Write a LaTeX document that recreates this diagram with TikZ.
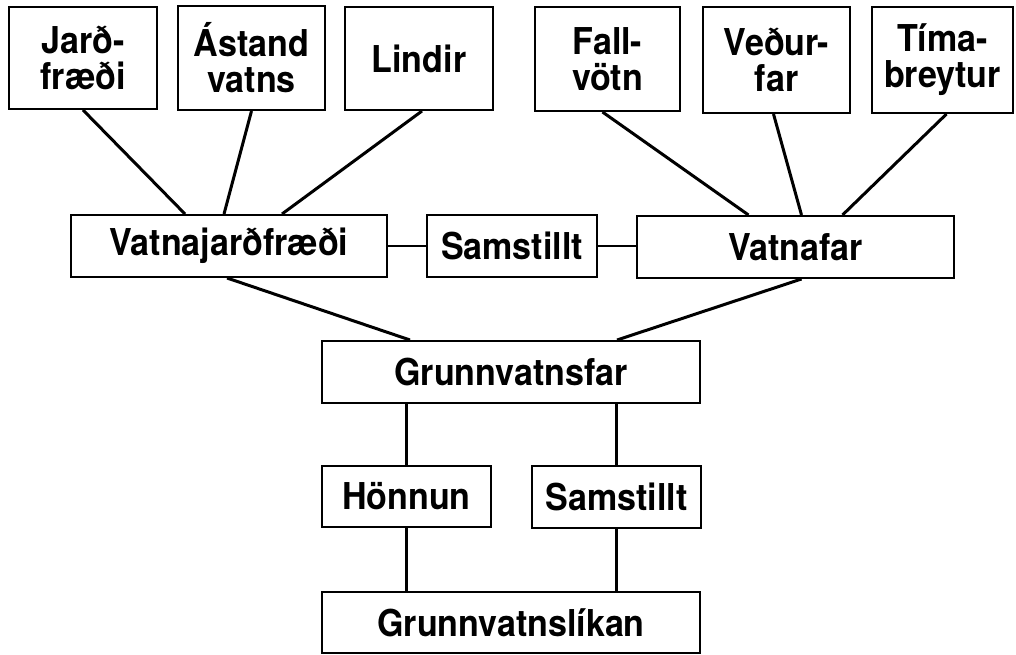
\documentclass[tikz,border=0pt]{standalone}
\usepackage{fontspec}
\setmainfont{TeX Gyre Heros}[FakeStretch=0.92]
\begin{document}
\begin{tikzpicture}[x=1pt,y=-1pt,
  box/.style={draw, line width=2pt, rectangle, inner sep=0pt, align=center,
    font=\fontsize{37}{36}\selectfont\bfseries},
  conn/.style={line width=3pt}]
\useasboundingbox (0,0) rectangle (1016,655);
% top row
\node[box, minimum width=148, minimum height=102] (jard)   at (83,58)    {Jarð-\\fræði};
\node[box, minimum width=147, minimum height=104] (astand) at (251.5,58) {Ástand\\vatns};
\node[box, minimum width=148, minimum height=103] (lindir) at (419,58.5) {Lindir};
\node[box, minimum width=145, minimum height=104] (fall)   at (607.5,59) {Fall-\\vötn};
\node[box, minimum width=147, minimum height=106] (vedur)  at (776.5,60) {Veður-\\far};
\node[box, minimum width=141, minimum height=106] (tima)   at (942.5,60) {Tíma-\\breytur};
% middle row
\node[box, minimum width=316, minimum height=62] (vjf)   at (229,246)   {Vatnajarðfræði};
\node[box, minimum width=170, minimum height=62] (sam1)  at (512,246)   {Samstillt};
\node[box, minimum width=317, minimum height=62] (vafar) at (795.5,247) {Vatnafar};
% lower
\node[box, minimum width=378, minimum height=62] (gvf)  at (511,372)   {Grunnvatnsfar};
\node[box, minimum width=169, minimum height=61] (honn) at (406.5,496.5) {Hönnun};
\node[box, minimum width=169, minimum height=62] (sam2) at (616.5,497) {Samstillt};
\node[box, minimum width=378, minimum height=61] (gvl)  at (511,622.5) {Grunnvatnslíkan};
% connectors top
\draw[conn] (jard.south) -- ([xshift=-44]vjf.north);
\draw[conn] (astand.south) -- ([xshift=-5]vjf.north);
\draw[conn] ([xshift=3]lindir.south) -- ([xshift=53]vjf.north);
\draw[conn] ([xshift=-5]fall.south) -- ([xshift=-47]vafar.north);
\draw[conn] ([xshift=-3]vedur.south) -- ([xshift=6]vafar.north);
\draw[conn] ([xshift=4]tima.south) -- ([xshift=47]vafar.north);
% horizontal
\draw[line width=2pt] (vjf.east) -- (sam1.west);
\draw[line width=2pt] (sam1.east) -- (sam1.east -| vafar.west);
% to Grunnvatnsfar
\draw[conn] ([xshift=-2]vjf.south) -- ([xshift=-101]gvf.north);
\draw[conn] ([xshift=6]vafar.south) -- ([xshift=106]gvf.north);
% verticals
\draw[conn] (honn.north |- gvf.south) -- (honn.north);
\draw[conn] (honn.south) -- (honn.south |- gvl.north);
\draw[conn] (sam2.north |- gvf.south) -- (sam2.north);
\draw[conn] (sam2.south) -- (sam2.south |- gvl.north);
\end{tikzpicture}
\end{document}
